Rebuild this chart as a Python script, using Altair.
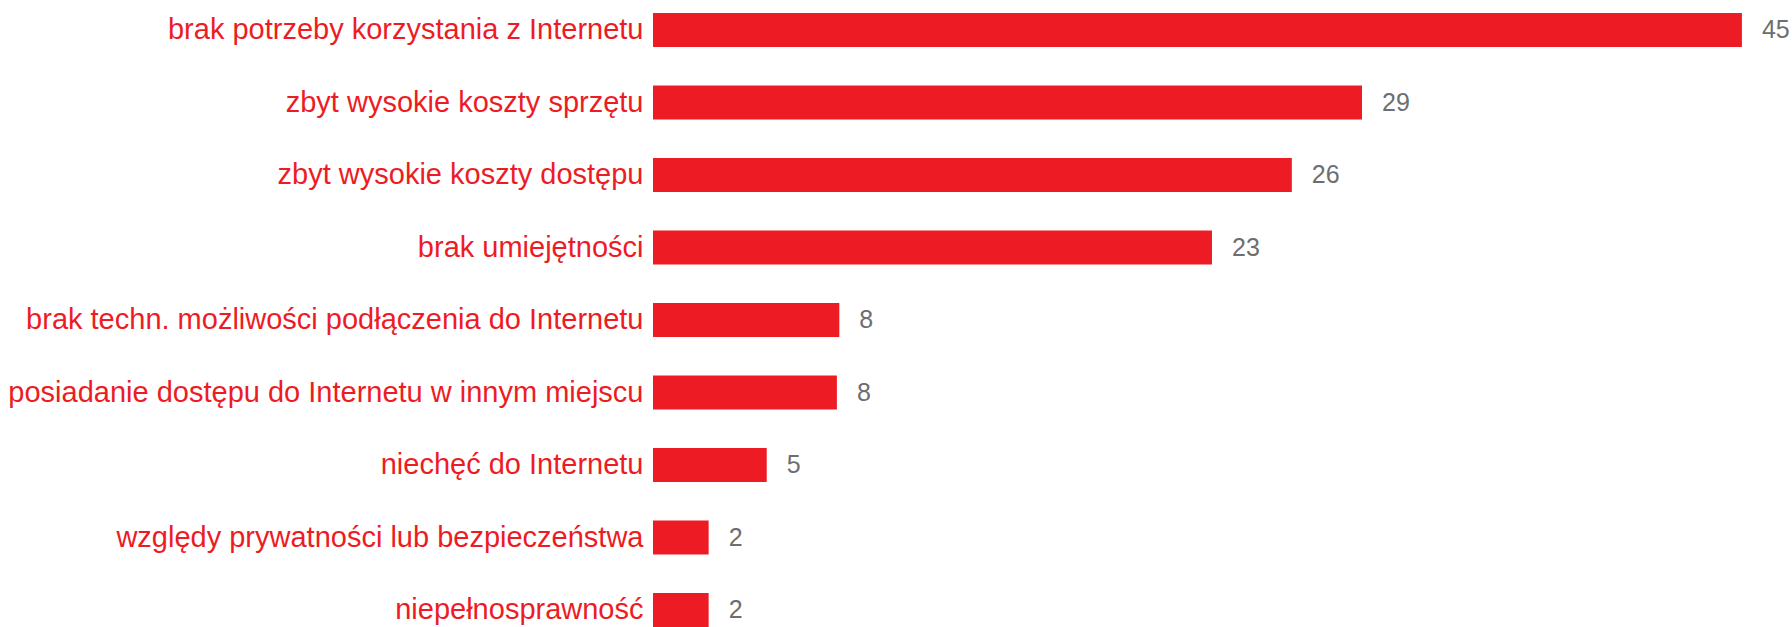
import altair as alt
import pandas as pd

categories = [
    "brak potrzeby korzystania z Internetu",
    "zbyt wysokie koszty sprzętu",
    "zbyt wysokie koszty dostępu",
    "brak umiejętności",
    "brak techn. możliwości podłączenia do Internetu",
    "posiadanie dostępu do Internetu w innym miejscu",
    "niechęć do Internetu",
    "względy prywatności lub bezpieczeństwa",
    "niepełnosprawność",
]
values = [45.0, 29.3, 26.4, 23.1, 7.7, 7.6, 4.7, 2.3, 2.3]
labels = ["45", "29", "26", "23", "8", "8", "5", "2", "2"]

df = pd.DataFrame({"cat": categories, "val": values, "lab": labels})

RED = "#ED1C24"
GRAY = "#6D6E71"
FONT = "Liberation Sans"

y = alt.Y(
    "cat:N",
    sort=None,
    title=None,
    scale=alt.Scale(paddingInner=0.531, paddingOuter=0.0897, align=1),
    axis=alt.Axis(
        labelColor=RED,
        labelFont=FONT,
        labelFontSize=29,
        labelPadding=10,
        ticks=False,
        domain=False,
        grid=False,
        labelLimit=0,
    ),
)
x = alt.X("val:Q", title=None, scale=alt.Scale(domain=[0, 47.07], nice=False), axis=None)

bars = alt.Chart(df).mark_bar(color=RED).encode(x=x, y=y)
text = alt.Chart(df).mark_text(
    align="left", baseline="middle", dx=20, color=GRAY, font=FONT, fontSize=25
).encode(x=x, y=y, text="lab:N")

chart = (
    alt.layer(bars, text)
    .properties(
        width=1139,
        height=627,
        background="white",
        autosize=alt.AutoSizeParams(type="none"),
        padding={"left": 653, "top": 0, "right": 0, "bottom": 0},
    )
    .configure_view(stroke=None, strokeWidth=0)
)

chart.save("out.html", embed_options={"renderer": "svg", "actions": False})
